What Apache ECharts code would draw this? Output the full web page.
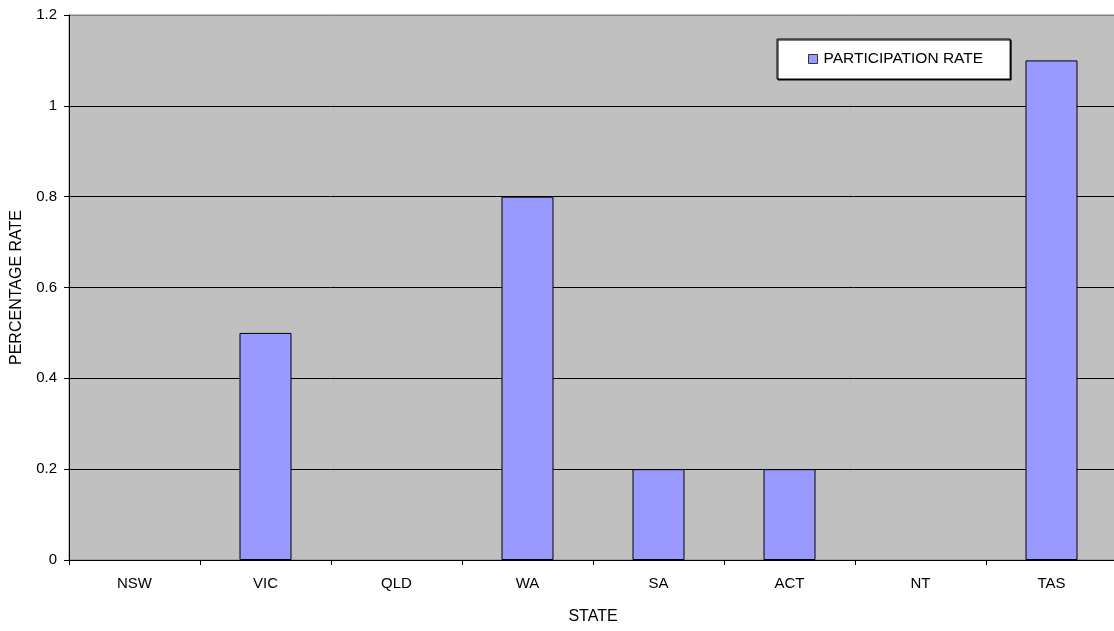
<!DOCTYPE html>
<html>
<head>
<meta charset="utf-8">
<script src="https://cdn.jsdelivr.net/npm/echarts@6/dist/echarts.min.js"></script>
<style>html,body{margin:0;padding:0;background:#fff}#c{width:1114px;height:631px}</style>
</head>
<body>
<div id="c"></div>
<script>
const categories = ['NSW','VIC','QLD','WA','SA','ACT','NT','TAS'];
const participationRate = [0, 0.5, 0, 0.8, 0.2, 0.2, 0, 1.1];
const seriesName = 'PARTICIPATION RATE';
const xAxisTitle = 'STATE';
const yAxisTitle = 'PERCENTAGE RATE';

const chart = echarts.init(document.getElementById('c'));
const font = 'Liberation Sans, Arial, sans-serif';
chart.setOption({
  animation: false,
  backgroundColor: '#fff',
  textStyle: {fontFamily: font},
  grid: {left: 69, right: -3, top: 15, bottom: 71, show: true, backgroundColor: '#C0C0C0',
         borderColor: '#808080', borderWidth: 1, outerBoundsMode: 'none', containLabel: false},
  legend: {
    show: true,
    left: 777, top: 39,
    padding: [12, 27, 12, 31],
    backgroundColor: '#fff', borderColor: '#000', borderWidth: 1,
    shadowColor: '#000', shadowBlur: 0, shadowOffsetX: 1, shadowOffsetY: 1,
    itemWidth: 9, itemHeight: 9, itemGap: 2,
    icon: 'rect',
    textStyle: {fontFamily: font, fontSize: 15.5, color: '#000', padding: [0,0,0,1]},
    data: [{name: seriesName, itemStyle: {color: '#9999FF', borderColor: '#333', borderWidth: 1}}]
  },
  xAxis: {
    type: 'category', data: categories,
    name: xAxisTitle, nameLocation: 'middle', nameGap: 49,
    nameTextStyle: {fontFamily: font, fontSize: 16, color: '#000'},
    axisLine: {lineStyle: {color: '#000', width: 1}},
    axisTick: {show: true, alignWithLabel: false, length: 5, lineStyle: {color: '#000'}},
    axisLabel: {fontFamily: font, fontSize: 15, color: '#000', margin: 16}
  },
  yAxis: {
    type: 'value', min: 0, max: 1.2, interval: 0.2,
    name: yAxisTitle, nameLocation: 'middle', nameGap: 44, nameRotate: 90,
    nameTextStyle: {fontFamily: font, fontSize: 16, color: '#000'},
    axisLine: {show: true, lineStyle: {color: '#000', width: 1}},
    axisTick: {show: true, length: 5, lineStyle: {color: '#000'}},
    axisLabel: {fontFamily: font, fontSize: 15, color: '#000', margin: 12,
      formatter: v => String(Math.round(v*10)/10)},
    splitLine: {show: true, lineStyle: {color: ['#000','#000','#000','#000','#000','#000','#808080'], width: 1}}
  },
  series: [{
    name: seriesName, type: 'bar',
    data: participationRate.map(v => v === 0 ? {value: v, itemStyle: {borderWidth: 0, opacity: 0}} : v),
    barWidth: 52,
    itemStyle: {color: '#9999FF', borderColor: '#000', borderWidth: 1}
  }]
});
</script>
</body>
</html>
